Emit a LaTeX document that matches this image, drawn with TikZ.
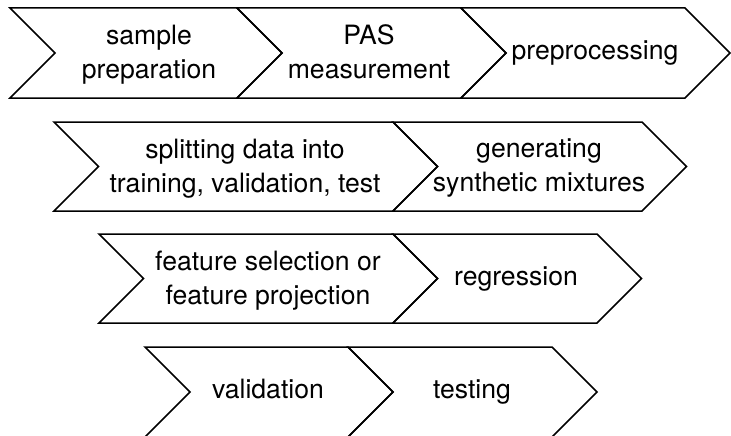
\documentclass[tikz,border=0pt]{standalone}
\usepackage{fontspec}
\setmainfont{TeX Gyre Heros}
\usepackage{tikz}
\definecolor{stepblack}{RGB}{0, 0, 0}

\begin{document}
\begin{tikzpicture}[x=1pt, y=-1pt,
    stepline/.style={draw=stepblack, line width=1.5pt, line join=miter},
    steptext/.style={font=\fontsize{26.6}{34}\selectfont, align=center, inner sep=0pt,
        text=stepblack, execute at begin node=\strut, execute at end node=\strut}]
    \useasboundingbox (0,0) rectangle (731,436);
    % row 1
    \draw[stepline] (10,8) -- (237,8) -- (282,53) -- (237,98) -- (10,98) -- (55,53) -- cycle;
    \draw[stepline] (237,8) -- (461,8) -- (506,53) -- (461,98) -- (237,98) -- (282,53) -- cycle;
    \draw[stepline] (461,8) -- (685,8) -- (730,53) -- (685,98) -- (461,98) -- (506,53) -- cycle;
    \node[steptext] (sample) at (149,57) {sample\\preparation};
    \node[steptext] (pas) at (369,57) {PAS\\measurement};
    \node[steptext] (preproc) at (595,53) {preprocessing};
    % row 2
    \draw[stepline] (54,122) -- (393,122) -- (437.5,166.5) -- (393,211) -- (54,211) -- (98.5,166.5) -- cycle;
    \draw[stepline] (393,122) -- (642,122) -- (686.5,166.5) -- (642,211) -- (393,211) -- (437.5,166.5) -- cycle;
    \node[steptext] (split) at (245,170.5) {splitting data into\\training, validation, test};
    \node[steptext] (synth) at (539,170.5) {generating\\synthetic mixtures};
    % row 3
    \draw[stepline] (99,234) -- (393,234) -- (437.5,278.5) -- (393,323) -- (99,323) -- (143.5,278.5) -- cycle;
    \draw[stepline] (393,234) -- (597,234) -- (641.5,278.5) -- (597,323) -- (393,323) -- (437.5,278.5) -- cycle;
    \node[steptext] (feature) at (268,282.5) {feature selection or\\feature projection};
    \node[steptext] (regress) at (516,279) {regression};
    % row 4
    \draw[stepline] (145,347) -- (348,347) -- (393,392) -- (348,437) -- (145,437) -- (190,392) -- cycle;
    \draw[stepline] (348,347) -- (552,347) -- (597,392) -- (552,437) -- (348,437) -- (393,392) -- cycle;
    \node[steptext] (valid) at (268,392) {validation};
    \node[steptext] (testing) at (472,392) {testing};
\end{tikzpicture}
\end{document}
